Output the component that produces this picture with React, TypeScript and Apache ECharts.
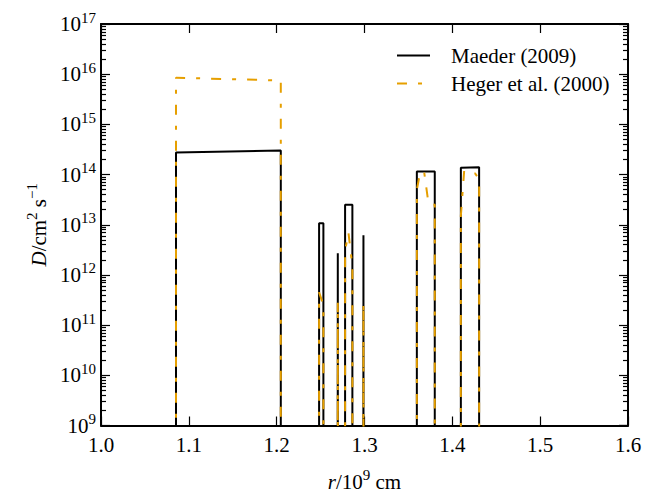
import React, { useEffect, useRef } from "react";
import * as echarts from "echarts";

// Values below the axis minimum (drawn off-grid, clipped)
const LOW = 1e3;

// Maeder (2009): radius (1e9 cm) and diffusion coefficient (cm^2/s)
const maederR = [
  1.0854, 1.0854, 1.2047, 1.2047,
  1.2483, 1.2483, 1.2532, 1.2532,
  1.2694, 1.2696, 1.2698,
  1.2779, 1.2779, 1.2862, 1.2862,
  1.2986, 1.2988, 1.299,
  1.3596, 1.3596, 1.38, 1.38,
  1.4097, 1.4097, 1.4305, 1.4305,
];
const maederD = [
  LOW, 2.75e14, 3.0e14, LOW,
  LOW, 1.07e13, 1.07e13, LOW,
  LOW, 2.7e12, LOW,
  LOW, 2.5e13, 2.5e13, LOW,
  LOW, 6.2e12, LOW,
  LOW, 1.15e14, 1.15e14, LOW,
  LOW, 1.36e14, 1.4e14, LOW,
];

// Heger et al. (2000)
const hegerR = [
  1.0854, 1.0854, 1.2047, 1.2047,
  1.2483, 1.2483, 1.2532, 1.2532,
  1.2694, 1.2696, 1.2698,
  1.2779, 1.2779, 1.2817, 1.2862, 1.2862,
  1.2986, 1.2988, 1.299,
  1.3596, 1.3596, 1.3635, 1.368, 1.3728, 1.38, 1.38,
  1.4097, 1.4097, 1.4135, 1.426, 1.4305, 1.4305,
];
const hegerD = [
  LOW, 8.5e15, 7.5e15, LOW,
  LOW, 4.5e11, 2.5e11, LOW,
  LOW, 2.8e11, LOW,
  LOW, 3e12, 7e12, 1.5e12, LOW,
  LOW, 2.8e11, LOW,
  LOW, 5e13, 1.15e14, 1.1e14, 2.7e13, 2.5e13, LOW,
  LOW, 1.5e13, 1.2e14, 1.05e14, 8e13, LOW,
];

const xMin = 1.0;
const xMax = 1.6;
const xStep = 0.1;
const yDecades = [9, 10, 11, 12, 13, 14, 15, 16, 17];
const minorMultipliers = [2, 3, 4, 5, 6, 7, 8, 9];

const FONT = "'Liberation Serif', 'Times New Roman', serif";
const BLACK = "#000000";
const ORANGE = "#E69F00";
const BASE = 21;
const SUP = 15;

const supRich = {
  b: { fontFamily: FONT, fontSize: BASE, lineHeight: 28, color: BLACK },
  i: { fontFamily: FONT, fontSize: BASE, lineHeight: 28, fontStyle: "italic", color: BLACK },
  s: { fontFamily: FONT, fontSize: SUP, lineHeight: 17, verticalAlign: "top", color: BLACK },
};

export default function App() {
  const ref = useRef<HTMLDivElement>(null);

  useEffect(() => {
    if (!ref.current) return;
    const chart = echarts.init(ref.current, null, { renderer: "svg" });

    const minorLogs: number[] = [];
    for (let k = 0; k < yDecades.length - 1; k++) {
      for (const m of minorMultipliers) minorLogs.push(yDecades[k] + Math.log10(m));
    }
    const yMinExp = yDecades[0];
    const yMaxExp = yDecades[yDecades.length - 1];

    const tickStyle = { color: BLACK, width: 1.2 };
    const frameLine = { show: true, onZero: false, lineStyle: { color: BLACK, width: 2 } };

    const minorAxis = (position: "left" | "right") => ({
      type: "value",
      position,
      min: yMinExp,
      max: yMaxExp,
      axisLine: { show: false },
      axisLabel: { show: false },
      splitLine: { show: false },
      axisTick: {
        show: true,
        inside: true,
        length: 5,
        lineStyle: tickStyle,
        customValues: minorLogs,
      },
    });

    const option: any = {
      animation: false,
      backgroundColor: "#ffffff",
      textStyle: { fontFamily: FONT },
      grid: { left: 101, right: 26, top: 24, bottom: 64, containLabel: false },
      legend: {
        orient: "vertical",
        left: 391,
        top: 40,
        itemWidth: 33,
        itemHeight: 14,
        itemGap: 7,
        itemStyle: { opacity: 0 },
        data: ["Maeder (2009)", "Heger et al. (2000)"],
        textStyle: { fontFamily: FONT, fontSize: BASE, color: BLACK, padding: [0, 0, 0, 16] },
      },
      xAxis: [
        {
          type: "value",
          position: "bottom",
          min: xMin,
          max: xMax,
          interval: xStep,
          name: "{i|r}{b|/10}{s|9}{b| cm}",
          nameLocation: "middle",
          nameGap: 42,
          nameTextStyle: { rich: supRich },
          axisLine: frameLine,
          axisTick: { show: true, inside: true, length: 9, lineStyle: tickStyle },
          axisLabel: {
            margin: 9,
            fontFamily: FONT,
            fontSize: BASE,
            color: BLACK,
            formatter: (v: number) => v.toFixed(1),
          },
          splitLine: { show: false },
        },
        {
          type: "value",
          position: "top",
          min: xMin,
          max: xMax,
          interval: xStep,
          axisLine: frameLine,
          axisTick: { show: true, inside: true, length: 9, lineStyle: tickStyle },
          axisLabel: { show: false },
          splitLine: { show: false },
        },
      ],
      yAxis: [
        {
          type: "log",
          logBase: 10,
          position: "left",
          min: Math.pow(10, yMinExp),
          max: Math.pow(10, yMaxExp),
          splitNumber: 8,
          name: "{i|D}{b|/cm}{s|2}{b| s}{s|−1}",
          nameLocation: "middle",
          nameRotate: 90,
          nameGap: 46,
          nameTextStyle: { rich: supRich },
          axisLine: frameLine,
          axisTick: { show: true, inside: true, length: 9, lineStyle: tickStyle },
          axisLabel: {
            margin: 5,
            formatter: (v: number) => `{b|10}{s|${Math.round(Math.log10(v))}}`,
            rich: supRich,
          },
          splitLine: { show: false },
        },
        {
          type: "log",
          logBase: 10,
          position: "right",
          min: Math.pow(10, yMinExp),
          max: Math.pow(10, yMaxExp),
          splitNumber: 8,
          axisLine: frameLine,
          axisTick: { show: true, inside: true, length: 9, lineStyle: tickStyle },
          axisLabel: { show: false },
          splitLine: { show: false },
        },
        minorAxis("left"),
        minorAxis("right"),
      ],
      series: [
        {
          name: "Maeder (2009)",
          type: "line",
          xAxisIndex: 0,
          yAxisIndex: 0,
          data: maederR.map((r, i) => [r, maederD[i]]),
          symbol: "none",
          clip: true,
          lineStyle: { color: BLACK, width: 2 },
          itemStyle: { color: BLACK },
        },
        {
          name: "Heger et al. (2000)",
          type: "line",
          xAxisIndex: 0,
          yAxisIndex: 0,
          data: hegerR.map((r, i) => [r, hegerD[i]]),
          symbol: "none",
          clip: true,
          lineStyle: { color: ORANGE, width: 2, type: [10, 11, 4, 11] },
          itemStyle: { color: ORANGE },
        },
      ],
    };

    chart.setOption(option);
    return () => chart.dispose();
  }, []);

  return (
    <div
      ref={ref}
      style={{ position: "absolute", left: 0, top: 0, width: 654, height: 497 }}
    />
  );
}
